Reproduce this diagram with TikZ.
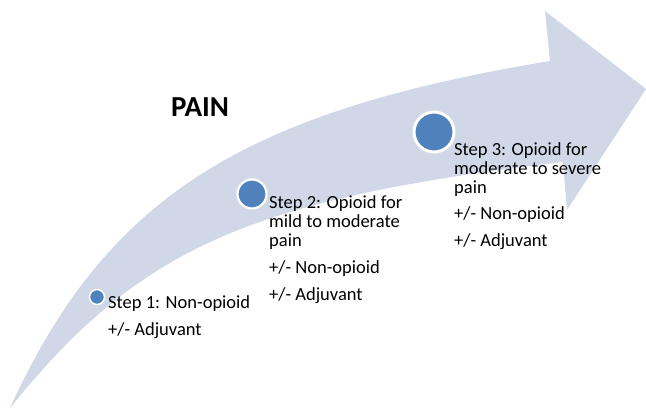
\documentclass[tikz,border=0pt]{standalone}
\usepackage{fontspec}
\setmainfont{Carlito}
\usepackage{xcolor}
\definecolor{arrowfill}{RGB}{208, 216, 232}
\definecolor{dotblue}{RGB}{79, 129, 189}

\begin{document}
\begin{tikzpicture}[x=1pt, y=-1pt,
    stepdot/.style={circle, fill=dotblue, draw=white, inner sep=0pt},
    steptext/.style={anchor=base west, align=left, inner sep=0pt, font=\fontsize{18.5}{19}\selectfont}]
    \useasboundingbox (0,0) rectangle (646,409);
    \clip (0,0) rectangle (646,409);

    % Curved arrow
    \fill[arrowfill] (10,408) .. controls (106,198) and (241,112) .. (550,61)
        -- (545,11) -- (646,89) -- (567,210) -- (563,162)
        .. controls (249,199) and (139,248) .. (10,408) -- cycle;

    % Title
    \node[font=\bfseries\fontsize{29}{30}\selectfont, anchor=base] (pain) at (200,117) {PAIN};

    % Step dots
    \node[stepdot, minimum size=15pt, line width=1.5pt] (dot1) at (97,297) {};
    \node[stepdot, minimum size=29pt, line width=2.2pt] (dot2) at (252,194) {};
    \node[stepdot, minimum size=40pt, line width=3pt] (dot3) at (434,132) {};

    % Step texts (anchored on the last line)
    \node[steptext] (step1) at (108,335) {Step 1: Non-opioid\\[8pt] +/- Adjuvant};
    \node[steptext] (step2) at (269,300) {Step 2: Opioid for\\ mild to moderate\\ pain\\[8pt] +/- Non-opioid\\[8pt] +/- Adjuvant};
    \node[steptext] (step3) at (454,247) {Step 3: Opioid for\\ moderate to severe\\ pain\\[8pt] +/- Non-opioid\\[8pt] +/- Adjuvant};
\end{tikzpicture}
\end{document}
